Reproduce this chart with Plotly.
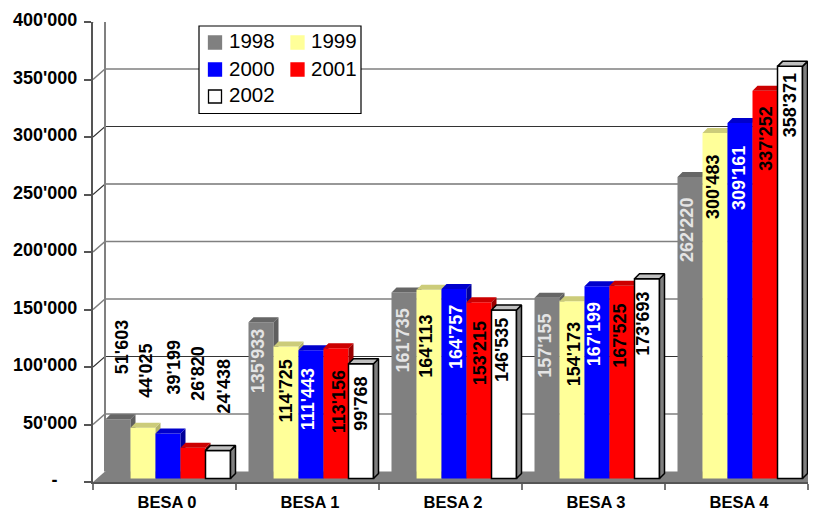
import plotly.graph_objects as go

categories = ["BESA 0", "BESA 1", "BESA 2", "BESA 3", "BESA 4"]
years = ["1998", "1999", "2000", "2001", "2002"]
v1998 = [51603, 135933, 161735, 157155, 262220]
v1999 = [44025, 114725, 164113, 154173, 300483]
v2000 = [39199, 111443, 164757, 167199, 309161]
v2001 = [26820, 113156, 153215, 167525, 337252]
v2002 = [24438, 99768, 146535, 173693, 358371]
series = [v1998, v1999, v2000, v2001, v2002]
tick_values = [0, 50000, 100000, 150000, 200000, 250000, 300000, 350000, 400000]
tick_labels = ["-\u00a0\u00a0\u00a0\u00a0", "50'000", "100'000", "150'000", "200'000",
               "250'000", "300'000", "350'000", "400'000"]
dark_grid = [100000, 250000, 300000]

# label placement relative to each bar top (pixels): drop below top, sideways nudge
label_drop = [[-72, 39, 48, 48, 53], [-57, 45, 57, 53, 54], [-66, 49, 48, 48, 55],
              [-74, 54, 51, 50, 48], [-64, 40, 40, 45, 39]]
label_nudge = [[4, -3, -2, -2, -3], [3, 0, -3, 2, -2], [6, -3, 2, -3, -1],
               [5, 3, 1, -2, 1], [6, 0, -2, -4, 0]]

front = ["#808080", "#FFFF99", "#0000FF", "#FF0000", "#FFFFFF"]
top = ["#666666", "#CCCC7A", "#0000CC", "#CC0000", "#C0C0C0"]
side = ["#5F5F5F", "#B3B36B", "#000099", "#990000", "#808080"]
label_colour = ["#E4E4E4", "#000000", "#FFFFFF", "#000000", "#000000"]
FONT = "Liberation Sans, Arial, sans-serif"

W, H = 814, 512
L, R, T, B = 93, 6, 22, 30
pw, ph = W - L - R, H - T - B
cat_px = pw / 5
u_x = 1 / cat_px                # data units per pixel, x
u_y = 400000 / ph               # data units per pixel, y
bar_w = 25 * u_x
group_off = 12.5 * u_x
wall_x, wall_y = 12 * u_x, 10.5 * u_y
base = 3.5 * u_y
dep_x, dep_y = 5 * u_x, 5 * u_y
right = 5

fig = go.Figure()

# floor
fig.add_trace(go.Scatter(x=[0, wall_x, right + wall_x, right, 0], y=[0, wall_y, wall_y, 0, 0],
                         mode="lines", fill="toself", fillcolor="#808080", line=dict(width=0),
                         hoverinfo="skip", cliponaxis=False, showlegend=False))

# back wall grid lines
for name, vals, col, wid in [("grid", [t for t in tick_values[1:] if t not in dark_grid], "#808080", 1.6),
                             ("grid dark", dark_grid, "#333333", 1.2)]:
    gx, gy = [], []
    for t in vals:
        gx += [0, wall_x, right + wall_x, None]
        gy += [t, t + wall_y, t + wall_y, None]
    fig.add_trace(go.Scatter(x=gx, y=gy, mode="lines", line=dict(color=col, width=wid),
                             hoverinfo="skip", cliponaxis=False, showlegend=False))
fig.add_trace(go.Scatter(x=[wall_x, wall_x], y=[wall_y, 400000 + wall_y], mode="lines",
                         line=dict(color="#808080", width=2), hoverinfo="skip",
                         cliponaxis=False, showlegend=False))

annotations = []
layout_axes = {}
for j, vals in enumerate(series):
    n = j + 2
    xa, ya = f"x{n}", f"y{n}"
    layout_axes[f"xaxis{n}"] = dict(overlaying="x", matches="x", visible=False, automargin=False)
    layout_axes[f"yaxis{n}"] = dict(overlaying="y", matches="y", visible=False, automargin=False)
    xs = [i + group_off + (j + 0.5) * bar_w for i in range(5)]
    outline = dict(color="#000000", width=1.5) if j == 4 else dict(width=0)
    fig.add_trace(go.Bar(x=xs, y=vals, base=base, width=bar_w, name=years[j], xaxis=xa, yaxis=ya,
                         marker=dict(color=front[j], line=outline), showlegend=False))
    sx, sy, tx, ty = [], [], [], []
    for xc, v in zip(xs, vals):
        x1, x0, yt = xc + bar_w / 2, xc - bar_w / 2, v + base
        sx += [x1, x1 + dep_x, x1 + dep_x, x1, x1, None]
        sy += [base, base + dep_y, yt + dep_y, yt, base, None]
        tx += [x0, x0 + dep_x, x1 + dep_x, x1, x0, None]
        ty += [yt, yt + dep_y, yt + dep_y, yt, yt, None]
    edge = dict(color="#000000", width=1.5) if j == 4 else dict(width=0)
    fig.add_trace(go.Scatter(x=sx, y=sy, xaxis=xa, yaxis=ya, mode="lines", fill="toself", fillcolor=side[j],
                             line=edge, hoverinfo="skip", cliponaxis=False, showlegend=False))
    fig.add_trace(go.Scatter(x=tx, y=ty, xaxis=xa, yaxis=ya, mode="lines", fill="toself", fillcolor=top[j],
                             line=edge, hoverinfo="skip", cliponaxis=False, showlegend=False))
    for i, (xc, v) in enumerate(zip(xs, vals)):
        colour = "#000000" if i == 0 else label_colour[j]
        annotations.append(dict(x=xc, y=v + base, xref="x", yref="y", text=f"{v:,}".replace(",", "'"),
                                textangle=-90, showarrow=False, xanchor="center", yanchor="middle",
                                xshift=label_nudge[j][i], yshift=-label_drop[j][i],
                                font=dict(family=FONT, size=18, color=colour, weight="bold")))

# legend drawn as a two-column box
def px(x):
    return (x - L) / pw

def py(y):
    return 1 - (y - T) / ph

shapes = [dict(type="rect", xref="paper", yref="paper", x0=px(199), x1=px(361), y0=py(113.5), y1=py(26),
               fillcolor="#FFFFFF", line=dict(color="#000000", width=1.2))]
rows = [42.5, 69.5, 96.5]
cols = [215, 297.5]
for j, yr in enumerate(years):
    cx, cy = cols[j % 2], rows[j // 2]
    shapes.append(dict(type="rect", xref="paper", yref="paper", x0=px(cx - 6.5), x1=px(cx + 6.5),
                       y0=py(cy + 6.5), y1=py(cy - 6.5), fillcolor=front[j],
                       line=dict(color="#000000" if j == 4 else front[j], width=1.3)))
    annotations.append(dict(x=px(cx + 11.5), y=py(cy - 1.5), xref="paper", yref="paper", text=yr, showarrow=False,
                            xanchor="left", yanchor="middle",
                            font=dict(family=FONT, size=20.5, color="#000000")))

fig.update_layout(
    width=W, height=H, autosize=False, margin=dict(l=L, r=R, t=T, b=B, pad=0, autoexpand=False),
    paper_bgcolor="#FFFFFF", plot_bgcolor="#FFFFFF", showlegend=False, barmode="overlay",
    shapes=shapes, annotations=annotations,
    font=dict(family=FONT, color="#000000"),
    xaxis=dict(range=[0, 5], tickmode="array", automargin=False,
               tickvals=[i + group_off + 2.5 * bar_w - 1 * u_x for i in range(5)], ticktext=categories,
               ticks="outside", ticklen=4, tickcolor="rgba(0,0,0,0)", showgrid=False, zeroline=False,
               showline=True, linecolor="#555555", linewidth=2,
               tickfont=dict(family=FONT, size=16.5, color="#000000", weight="bold"),
               minor=dict(tickmode="array", tickvals=list(range(6)), ticks="outside", ticklen=6,
                          tickcolor="#777777", tickwidth=1.5, showgrid=False)),
    yaxis=dict(range=[0, 400000], tickmode="array", tickvals=tick_values, ticktext=tick_labels,
               automargin=False, ticks="outside", ticklen=7, tickcolor="#555555", tickwidth=1.5, showgrid=False,
               zeroline=False, showline=True, linecolor="#555555", linewidth=2, ticklabelstandoff=3,
               ticklabelshift=-2,
               tickfont=dict(family=FONT, size=18, color="#000000", weight="bold")),
    **layout_axes,
)

fig.write_html("out.html", config=dict(displayModeBar=False), post_script="document.body.style.margin='0';")
